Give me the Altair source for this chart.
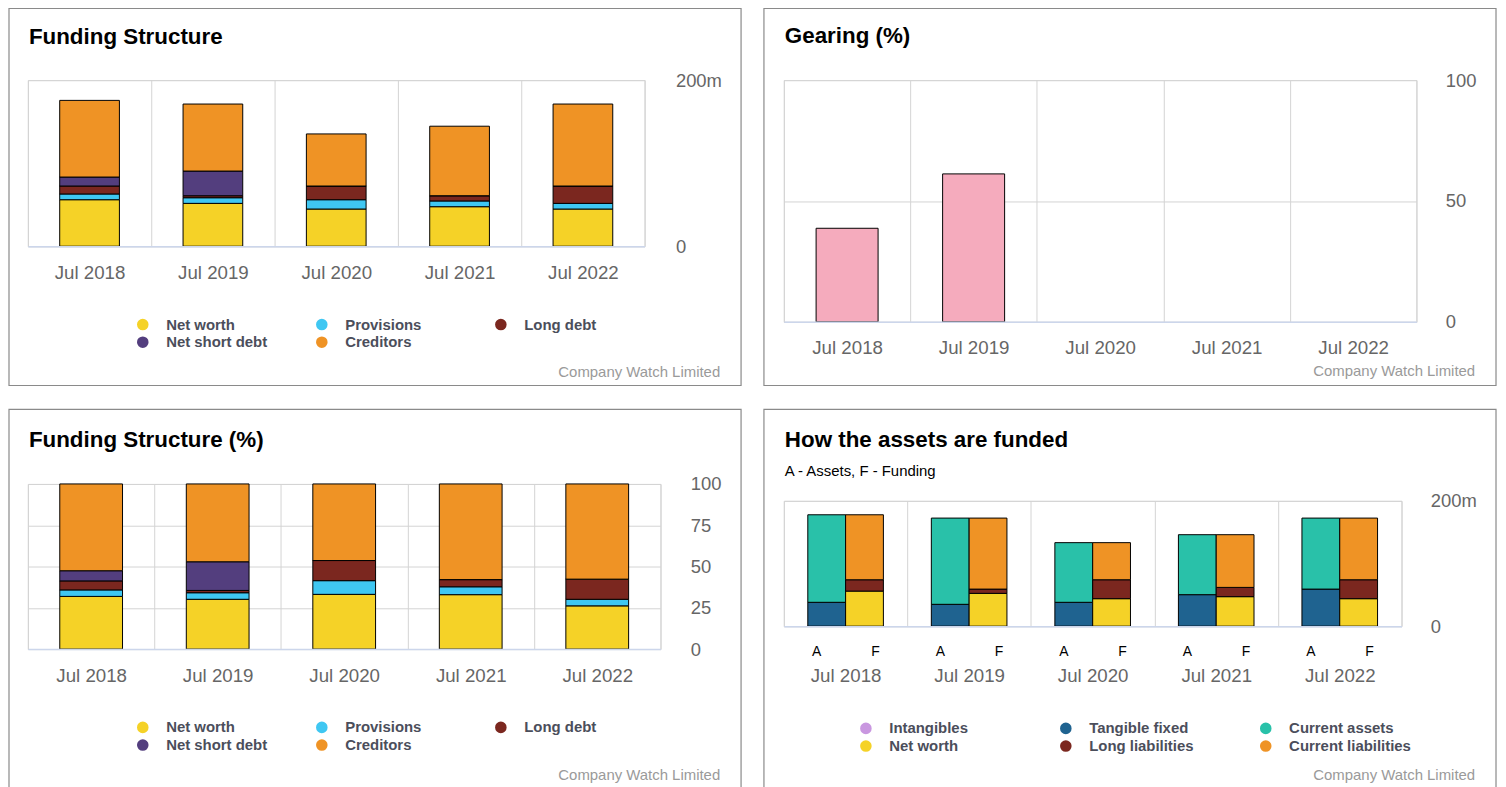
import altair as alt
import pandas as pd

FONT = "Liberation Sans"
GRID = "#d4d4d4"

years = ["Jul 2018", "Jul 2019", "Jul 2020", "Jul 2021", "Jul 2022"]

# Funding structure (m)
fs_series = ["Net worth", "Provisions", "Long debt", "Net short debt", "Creditors"]
fs_colors = ["#f5d227", "#3fc7f2", "#7b271f", "#533e7e", "#ef9325"]
net_worth = [56.0, 51.6, 44.8, 47.6, 44.8]
provisions = [6.9, 6.8, 11.2, 6.9, 6.8]
long_debt = [9.6, 2.4, 16.5, 6.3, 20.9]
net_short_debt = [10.8, 29.7, 0.0, 0.0, 0.0]
creditors = [92.3, 80.7, 62.7, 83.7, 98.7]

# Gearing (%)
gearing = [38.7, 61.2, None, None, None]

# How the assets are funded (m)
af_series = ["Intangibles", "Tangible fixed", "Current assets",
             "Net worth", "Long liabilities", "Current liabilities"]
af_colors = ["#c997e0", "#1f6390", "#29c1a9", "#f5d227", "#7b271f", "#ef9325"]
af_groups = ["A", "A", "A", "F", "F", "F"]
intangibles = [0.0, 0.0, 0.0, 0.0, 0.0]
tangible_fixed = [38.1, 34.9, 38.1, 50.3, 59.2]
current_assets = [139.7, 137.6, 95.2, 95.7, 113.3]
af_net_worth = [56.0, 52.4, 43.9, 47.1, 43.9]
long_liabilities = [18.1, 6.8, 30.2, 14.8, 30.2]
current_liabilities = [103.7, 113.3, 59.2, 84.1, 98.4]

fs_values = [net_worth, provisions, long_debt, net_short_debt, creditors]
fs_df = pd.DataFrame([
    {"year": y, "series": s, "value": arr[i], "idx": j}
    for i, y in enumerate(years)
    for j, (s, arr) in enumerate(zip(fs_series, fs_values))
])
gear_df = pd.DataFrame({"year": years, "value": gearing})
af_values = [intangibles, tangible_fixed, current_assets,
             af_net_worth, long_liabilities, current_liabilities]
af_df = pd.DataFrame([
    {"year": y, "series": s, "grp": g, "value": arr[i], "idx": j}
    for i, y in enumerate(years)
    for j, (s, g, arr) in enumerate(zip(af_series, af_groups, af_values))
])


def border(l, r, t, b):
    return alt.Chart(pd.DataFrame({"k": [0]})).mark_rect(
        fill="white", fillOpacity=0, stroke="#8a8a8a", strokeWidth=1.2
    ).encode(x=alt.value(l), x2=alt.value(r), y=alt.value(t), y2=alt.value(b))


def label(text, xv, yv, size, weight="normal", color="black", align="left"):
    return alt.Chart(pd.DataFrame({"t": [text]})).mark_text(
        align=align, baseline="alphabetic", fontSize=size, fontWeight=weight,
        color=color, font=FONT
    ).encode(x=alt.value(xv), y=alt.value(yv), text="t:N")


def credit(xv, yv):
    return alt.Chart(pd.DataFrame({"t": ["Company Watch Limited"]})).mark_text(
        align="right", baseline="middle", fontSize=15, color="#9a9a9a", font=FONT
    ).encode(x=alt.value(xv), y=alt.value(yv), text="t:N")


def xaxis(pad):
    return alt.Axis(title=None, orient="bottom", grid=True, gridColor=GRID,
                    tickBand="extent", ticks=False, domain=True,
                    domainColor="#ccd6eb", domainWidth=1.5, zindex=1,
                    labelFontSize=18.8, labelColor="#666666", labelFont=FONT,
                    labelPadding=pad, labelAngle=0)


def yaxis(values, pad, expr):
    return alt.Axis(title=None, orient="right", values=values, grid=True,
                    gridColor=GRID, ticks=False, domain=False,
                    labelFontSize=18.5, labelColor="#666666", labelFont=FONT,
                    labelPadding=pad, labelAlign="left", labelBaseline="middle",
                    labelFlush=False, labelExpr=expr)


def legend(lx, ly):
    return alt.Legend(title=None, orient="none", legendX=lx, legendY=ly,
                      columns=3, direction="horizontal", gridAlign="all",
                      symbolType="circle", symbolSize=135, symbolStrokeWidth=0,
                      labelFontSize=15, labelFont=FONT, labelFontWeight="bold",
                      labelColor="#4b4e5b", labelOffset=16, columnPadding=47,
                      rowPadding=2, labelLimit=300)


def xscale():
    return alt.Scale(domain=years, paddingInner=0, paddingOuter=0)


M_EXPR = "datum.value == 0 ? '0' : datum.value + 'm'"
TSIZE = 22.5

# ---------- Panel 1: Funding Structure ----------
W1, H1 = 620, 167
p1_bars = alt.Chart(fs_df).mark_bar(
    stroke="black", strokeWidth=1, width=alt.RelativeBandSize(0.484)
).encode(
    x=alt.X("year:N", sort=years, scale=xscale(), axis=xaxis(17)),
    y=alt.Y("value:Q", stack="zero", scale=alt.Scale(domain=[0, 200], nice=False),
            axis=yaxis([0, 200], 31, M_EXPR)),
    color=alt.Color("series:N", scale=alt.Scale(domain=fs_series, range=fs_colors),
                    legend=legend(108, 238)),
    order=alt.Order("idx:Q", sort="ascending"),
)
p1 = alt.layer(
    border(-19, 717, -72, 307),
    label("Funding Structure", 1, -36, TSIZE, "bold"),
    p1_bars,
    credit(696, 293),
).properties(width=W1, height=H1)

# ---------- Panel 2: Gearing ----------
W2, H2 = 636, 243
p2_bars = alt.Chart(gear_df).mark_bar(
    stroke="black", strokeWidth=1, color="#f5abbd", width=alt.RelativeBandSize(0.49)
).encode(
    x=alt.X("year:N", sort=years, scale=xscale(), axis=xaxis(17)),
    y=alt.Y("value:Q", scale=alt.Scale(domain=[0, 100], nice=False),
            axis=yaxis([0, 50, 100], 29, "datum.label")),
)
p2 = alt.layer(
    border(-20, 716, -72, 307),
    label("Gearing (%)", 1, -37, TSIZE, "bold"),
    p2_bars,
    credit(695, 292),
).properties(width=W2, height=H2)

# ---------- Panel 3: Funding Structure (%) ----------
W3, H3 = 636, 166
p3_bars = alt.Chart(fs_df).mark_bar(
    stroke="black", strokeWidth=1, width=alt.RelativeBandSize(0.496)
).encode(
    x=alt.X("year:N", sort=years, scale=xscale(), axis=xaxis(18)),
    y=alt.Y("value:Q", stack="normalize", scale=alt.Scale(domain=[0, 1], nice=False),
            axis=yaxis([0, 0.25, 0.5, 0.75, 1], 30, "format(datum.value * 100, 'd')")),
    color=alt.Color("series:N", scale=alt.Scale(domain=fs_series, range=fs_colors),
                    legend=legend(108, 237)),
    order=alt.Order("idx:Q", sort="ascending"),
)
p3 = alt.layer(
    border(-19, 717, -75, 307),
    label("Funding Structure (%)", 1, -37, TSIZE, "bold"),
    p3_bars,
    credit(696, 293),
).properties(width=W3, height=H3)

# ---------- Panel 4: How the assets are funded ----------
W4, H4 = 621, 126
p4_bars = alt.Chart(af_df).mark_bar(stroke="black", strokeWidth=1).encode(
    x=alt.X("year:N", sort=years, scale=xscale(), axis=xaxis(41)),
    xOffset=alt.XOffset("grp:N", scale=alt.Scale(domain=["A", "F"], paddingInner=0,
                                                 paddingOuter=0.634)),
    y=alt.Y("value:Q", stack="zero", scale=alt.Scale(domain=[0, 200], nice=False),
            axis=yaxis([0, 200], 29, M_EXPR)),
    color=alt.Color("series:N", scale=alt.Scale(domain=af_series, range=af_colors),
                    legend=legend(75, 221)),
    order=alt.Order("idx:Q", sort="ascending"),
)
yr_df = pd.DataFrame({"year": years})
p4_a = alt.Chart(yr_df).mark_text(dx=-29, fontSize=14, font=FONT, color="black",
                                  baseline="middle").encode(
    x=alt.X("year:N", sort=years, scale=xscale(), axis=xaxis(41)),
    y=alt.value(H4 + 26), text=alt.value("A"))
p4_f = alt.Chart(yr_df).mark_text(dx=30, fontSize=14, font=FONT, color="black",
                                  baseline="middle").encode(
    x=alt.X("year:N", sort=years, scale=xscale(), axis=xaxis(41)),
    y=alt.value(H4 + 26), text=alt.value("F"))
p4 = alt.layer(
    border(-20, 716, -92, 290),
    label("How the assets are funded", 1, -54, TSIZE, "bold"),
    label("A - Assets, F - Funding", 1, -25, 15),
    p4_bars, p4_a, p4_f,
    credit(695, 276),
).properties(width=W4, height=H4)

col1 = alt.vconcat(p1, p3, spacing=20).resolve_scale(color="independent")
col2 = alt.vconcat(p2, p4, spacing=20).resolve_scale(color="independent")
chart = alt.hconcat(col1, col2, spacing=19).resolve_scale(
    color="independent"
).properties(
    padding={"left": -1, "top": -3.6, "right": 0, "bottom": 0},
    background="white",
).configure_view(stroke="#d4d4d4")

chart.save("out.html", embed_options={"renderer": "svg", "actions": False})
